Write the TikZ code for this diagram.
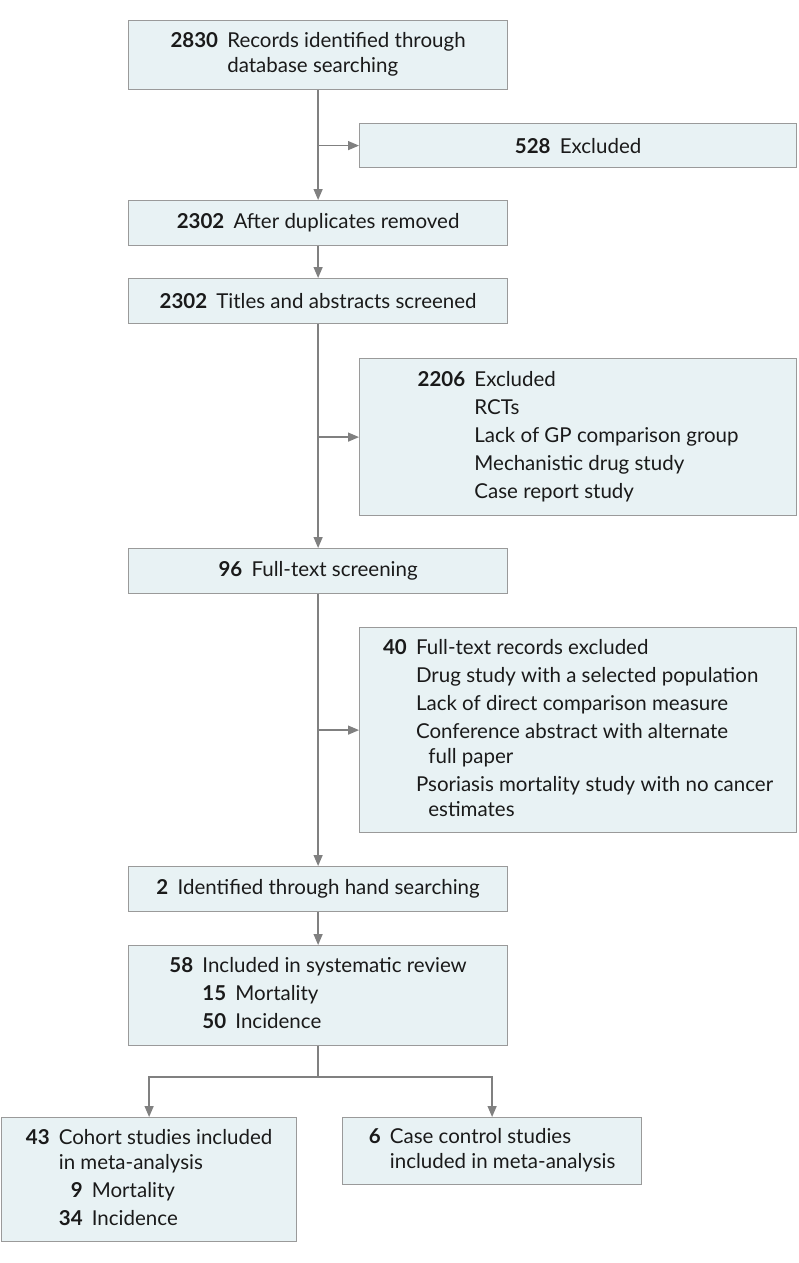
\documentclass[tikz,border=0pt]{standalone}
\usepackage{fontspec}
\setmainfont{Lato}
\usetikzlibrary{arrows.meta}
\definecolor{boxfill}{HTML}{E8F2F4}
\definecolor{boxline}{HTML}{9A9A9A}
\definecolor{flow}{HTML}{808080}
\definecolor{ink}{HTML}{1A1A1A}
\tikzset{
  box/.style={draw=boxline, fill=boxfill, line width=1.2pt, anchor=north west, inner sep=0pt, text=ink, font=\fontsize{20.5}{25}\selectfont},
  link/.style={draw=flow, line width=1.3pt, -{Triangle[length=11pt,width=9pt]}},
  trunk/.style={draw=flow, line width=1.3pt},
}
\newcommand{\cnt}[1]{\textbf{#1}}
\newcommand{\gapc}{@{\hspace{0.45em}}}

\begin{document}
\begin{tikzpicture}[x=1pt,y=-1pt]
  \useasboundingbox (0,0) rectangle (798,1263);
  % main column
  \node[box, minimum width=379pt, minimum height=69pt] (ident) at (128,20)
    {\begin{tabular}{@{}r\gapc l@{}}\cnt{2830} & Records identified through\\ & database searching\end{tabular}};
  \node[box, minimum width=379pt, minimum height=45pt] (dedup) at (128,200)
    {\cnt{2302}\hspace{0.45em}After duplicates removed};
  \node[box, minimum width=379pt, minimum height=45pt] (screen) at (128,278)
    {\cnt{2302}\hspace{0.45em}Titles and abstracts screened};
  \node[box, minimum width=379pt, minimum height=45pt] (fulltxt) at (128,548)
    {\cnt{96}\hspace{0.45em}Full-text screening};
  \node[box, minimum width=379pt, minimum height=45pt] (hand) at (128,866)
    {\cnt{2}\hspace{0.45em}Identified through hand searching};
  \node[box, minimum width=379pt, minimum height=100pt] (review) at (128,945)
    {\begin{tabular}{@{}r\gapc l@{}}\cnt{58} & Included in systematic review\\[3pt]
      & \cnt{15}\hspace{0.45em}Mortality\\[3pt]
      & \cnt{50}\hspace{0.45em}Incidence\end{tabular}};
  % exclusions
  \node[box, minimum width=437pt, minimum height=44pt] (exdup) at (359,123)
    {\cnt{528}\hspace{0.45em}Excluded};
  \node[box, minimum width=437pt, minimum height=157pt] (exscr) at (359,358)
    {\begin{tabular}{@{}r\gapc l@{}}\cnt{2206} & Excluded\\[3pt]
      & RCTs\\[3pt]
      & Lack of GP comparison group\\[3pt]
      & Mechanistic drug study\\[3pt]
      & Case report study\end{tabular}};
  \node[box, minimum width=437pt, minimum height=205pt] (exfull) at (359,627)
    {\begin{tabular}{@{}r\gapc l@{}}\cnt{40} & Full-text records excluded\\[3pt]
      & Drug study with a selected population\\[3pt]
      & Lack of direct comparison measure\\[3pt]
      & Conference abstract with alternate\\
      & \hspace{0.6em}full paper\\[3pt]
      & Psoriasis mortality study with no cancer\\
      & \hspace{0.6em}estimates\end{tabular}};
  % meta-analysis
  \node[box, minimum width=295pt, minimum height=124pt] (cohort) at (1,1117)
    {\begin{tabular}{@{}r\gapc l@{}}\cnt{43} & Cohort studies included\\
      & in meta-analysis\\[3pt]
      & \cnt{\phantom{3}9}\hspace{0.45em}Mortality\\[3pt]
      & \cnt{34}\hspace{0.45em}Incidence\end{tabular}};
  \node[box, minimum width=299pt, minimum height=67pt] (casectl) at (342,1117)
    {\begin{tabular}{@{}r\gapc l@{}}\cnt{6} & Case control studies\\
      & included in meta-analysis\end{tabular}};
  % flow
  \draw[link] (ident.south) -- (dedup.north);
  \draw[link] (ident.south |- exdup.west) -- (exdup.west);
  \draw[link] (dedup.south) -- (screen.north);
  \draw[link] (screen.south) -- (fulltxt.north);
  \draw[link] (screen.south |- exscr.west) -- (exscr.west);
  \draw[link] (fulltxt.south) -- (hand.north);
  \draw[link] (fulltxt.south |- exfull.west) -- (exfull.west);
  \draw[link] (hand.south) -- (review.north);
  \coordinate (split) at (review.south |- 0,1077);
  \draw[trunk] (review.south) -- (split);
  \draw[link] (split) -| (cohort.north);
  \draw[link] (split) -| (casectl.north);
\end{tikzpicture}
\end{document}
